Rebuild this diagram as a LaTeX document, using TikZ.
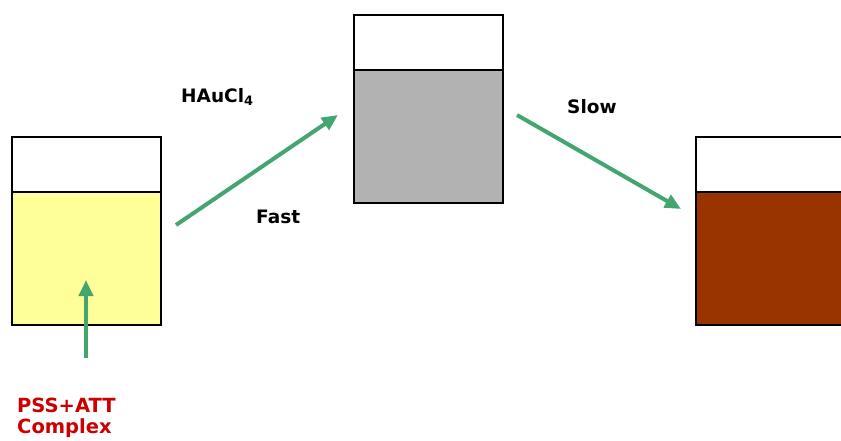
\documentclass[tikz,border=0pt]{standalone}
\usepackage{fontspec}
\setmainfont{DejaVu Sans}
\usetikzlibrary{arrows.meta}
\definecolor{arrgreen}{RGB}{66,166,110}
\definecolor{liqyellow}{RGB}{255,255,153}
\definecolor{liqgray}{RGB}{178,178,178}
\definecolor{liqbrown}{RGB}{153,51,0}
\definecolor{labred}{RGB}{204,0,0}
\tikzset{
  beaker/.style={draw=black, line width=2pt},
  flow/.style={draw=arrgreen, line width=4pt, -{Triangle[length=16pt,width=14pt]}},
  lab/.style={font=\bfseries\fontsize{18.5}{21}\selectfont, anchor=base west, inner sep=0pt},
}
\begin{document}
\begin{tikzpicture}[x=1pt,y=-1pt]
\useasboundingbox (0,0) rectangle (841,440);
\clip (0,0) rectangle (841,440);
% left beaker
\draw[beaker, fill=white] (12,137) rectangle (161,192);
\draw[beaker, fill=liqyellow] (12,192) rectangle (161,325);
% middle beaker
\draw[beaker, fill=white] (354,15) rectangle (503,70);
\draw[beaker, fill=liqgray] (354,70) rectangle (503,203);
% right beaker
\draw[beaker, fill=white] (696,137) rectangle (846,192);
\draw[beaker, fill=liqbrown] (696,192) rectangle (846,325);
% arrow end points
\coordinate (fastS) at (176,225);
\coordinate (fastE) at (338,115);
\coordinate (slowS) at (517,115);
\coordinate (slowE) at (681,209);
\coordinate (inS) at (86,358);
\coordinate (inE) at (86,280);
\draw[flow] (fastS) -- (fastE);
\draw[flow] (slowS) -- (slowE);
\draw[flow] (inS) -- (inE);
% labels
\node[lab] (hau) at (181,102) {HAuCl\textsubscript{4}};
\node[lab] (fast) at (256,223) {Fast};
\node[lab] (slow) at (567,113) {Slow};
\node[lab, text=labred, font=\bfseries\fontsize{19.5}{21}\selectfont] (pss) at (17,412) {PSS+ATT};
\node[lab, text=labred, font=\bfseries\fontsize{19.5}{21}\selectfont] (cpx) at (17,433) {Complex};
\end{tikzpicture}
\end{document}
